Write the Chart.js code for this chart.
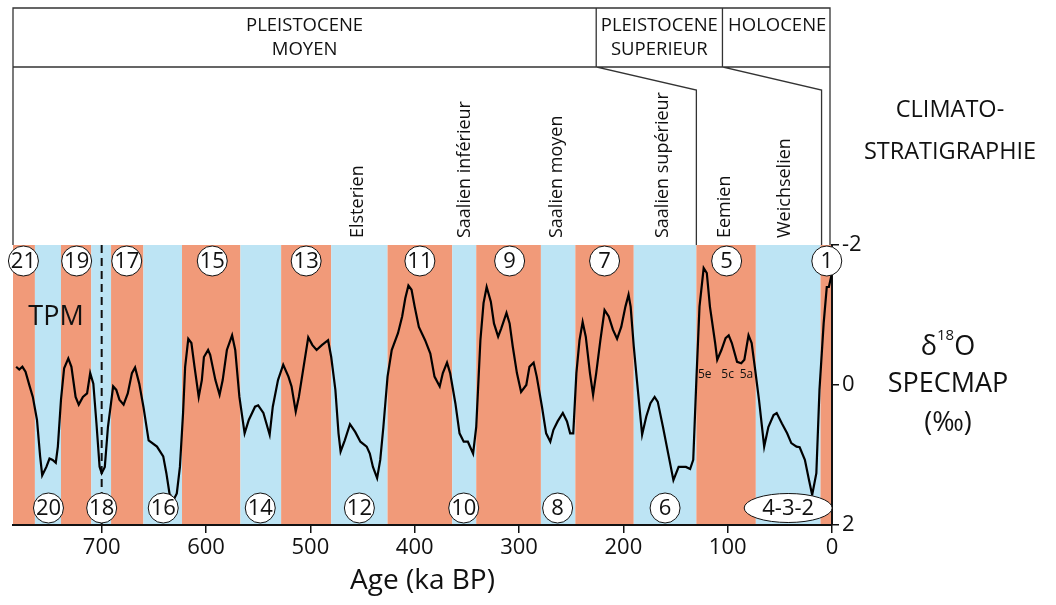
<!DOCTYPE html>
<html>
<head>
<meta charset="utf-8">
<script src="https://cdn.jsdelivr.net/npm/chart.js@4/dist/chart.umd.min.js"></script>
<style>
  html, body { margin: 0; padding: 0; background: #fff; }
  canvas { display: block; }
</style>
</head>
<body>
<canvas id="specmap" width="1056" height="605"></canvas>
<script>
// δ18O SPECMAP curve, age in ka BP and value in ‰
const ages = [
  782, 779, 776, 773, 769, 766, 762, 759, 757, 753,
  750, 747, 744, 742, 739, 736, 732, 729, 725, 722,
  718, 714, 711, 708, 705, 702, 700, 697, 694, 689,
  686, 683, 679, 675, 671, 668, 664, 660, 655, 647,
  641, 638, 635, 631, 628, 625, 622, 620, 617, 614,
  611, 607, 604, 602, 598, 596, 591, 587, 584, 580,
  575, 572, 568, 563, 559, 553, 550, 545, 539, 536,
  531, 526, 521, 518, 514, 511, 507, 502, 498, 494,
  489, 483, 480, 476, 473, 471, 467, 462, 457, 452,
  446, 443, 440, 436, 433, 430, 426, 422, 416, 412,
  409, 406, 403, 400, 396, 390, 385, 381, 376, 373,
  369, 366, 361, 357, 353, 349, 344, 341, 337, 334,
  331, 327, 324, 320, 317, 312, 309, 306, 302, 298,
  293, 290, 286, 283, 278, 274, 270, 267, 263, 258,
  254, 251, 248, 245, 242, 239, 236, 232, 229, 226,
  222, 218, 214, 210, 206, 202, 198, 195, 193, 190,
  187, 182, 178, 174, 170, 167, 162, 157, 152, 147,
  144, 140, 136, 133, 130, 127, 123, 120, 117, 112,
  110, 106, 102, 99, 96, 91, 87, 84, 80, 77,
  74, 70, 65, 61, 56, 53, 48, 43, 39, 34,
  31, 26, 22, 19, 15, 12, 8, 5, 3, 0
];
const d18O = [
  -0.26, -0.22, -0.26, -0.19, 0.02, 0.17, 0.50, 1.02, 1.29, 1.17,
  1.05, 1.07, 1.11, 0.88, 0.21, -0.24, -0.38, -0.26, 0.17, 0.28,
  0.17, 0.12, -0.17, -0.02, 0.55, 1.17, 1.26, 1.17, 0.60, 0.02,
  0.07, 0.21, 0.28, 0.12, -0.17, -0.25, -0.02, 0.31, 0.79, 0.88,
  1.02, 1.26, 1.55, 1.64, 1.55, 1.17, 0.40, -0.26, -0.66, -0.60,
  -0.26, 0.17, -0.07, -0.40, -0.50, -0.43, -0.07, 0.14, -0.07, -0.50,
  -0.71, -0.50, 0.17, 0.69, 0.50, 0.31, 0.29, 0.40, 0.71, 0.31,
  -0.07, -0.29, -0.12, 0.02, 0.38, 0.17, -0.21, -0.68, -0.57, -0.50,
  -0.57, -0.64, -0.40, 0.07, 0.69, 0.95, 0.79, 0.56, 0.67, 0.81,
  0.88, 0.98, 1.17, 1.33, 1.07, 0.60, -0.12, -0.50, -0.74, -0.98,
  -1.24, -1.42, -1.36, -1.12, -0.83, -0.64, -0.45, -0.12, 0.02, -0.17,
  -0.32, -0.17, 0.26, 0.69, 0.81, 0.81, 0.98, 0.60, -0.64, -1.17,
  -1.40, -1.19, -0.88, -0.69, -0.81, -1.03, -0.88, -0.55, -0.17, 0.10,
  0.00, -0.26, -0.32, -0.12, 0.31, 0.69, 0.81, 0.64, 0.52, 0.40,
  0.52, 0.69, 0.69, -0.17, -0.64, -0.90, -0.69, -0.17, 0.14, -0.17,
  -0.64, -1.07, -0.98, -0.79, -0.66, -0.83, -1.12, -1.29, -1.12, -0.55,
  -0.07, 0.71, 0.45, 0.26, 0.17, 0.24, 0.60, 0.98, 1.36, 1.17,
  1.17, 1.17, 1.20, 1.07, -0.07, -1.12, -1.67, -1.60, -1.12, -0.60,
  -0.36, -0.50, -0.67, -0.71, -0.60, -0.33, -0.31, -0.36, -0.71, -0.60,
  -0.26, 0.21, 0.88, 0.60, 0.43, 0.40, 0.55, 0.69, 0.83, 0.88,
  0.89, 1.07, 1.36, 1.57, 1.26, 0.07, -0.88, -1.40, -1.40, -1.60
];

// isotope stage bands, edges in ka (oldest first); stage 21 is warm
const stageEdges = [785, 764, 739, 710, 691, 660, 623, 567, 528, 480, 426, 364, 341, 279, 246, 190, 130, 73, 11, 0];

// stage numbers: odd (warm) on top, even (cold) at bottom
const oddStages = ['21', '19', '17', '15', '13', '11', '9', '7', '5', '1'];
const oddAges = [775, 724, 676, 594, 504, 395, 309, 218, 101, 5];
const evenStages = ['20', '18', '16', '14', '12', '10', '8', '6', '4-3-2'];
const evenAges = [751, 700, 641, 548, 453, 353, 263, 160, 42];

const subStages = ['5e', '5c', '5a'];
const subStageAges = [122, 100, 82];

// regional stages (climatostratigraphy)
const regionalNames = ['Elsterien', 'Saalien inférieur', 'Saalien moyen', 'Saalien supérieur', 'Eemien', 'Weichselien'];
const regionalAges = [454, 352, 264, 162, 103, 45];

// epochs: boxes in the top row, and where they meet the curve panel
const epochLabels = [['PLEISTOCENE', 'MOYEN'], ['PLEISTOCENE', 'SUPERIEUR'], ['HOLOCENE']];
const epochTopEdges = [785, 226, 105, 0];
const epochBaseEdges = [785, 130, 10, 0];

const tpmAge = 700;

const WARM = '#f19a79';
const COLD = '#bde4f4';
const FONT = "'Open Sans', sans-serif";

const frame = {
  id: 'frame',
  beforeDraw(chart) {
    const { ctx, chartArea: a, scales: { x } } = chart;
    ctx.save();
    for (let i = 0; i < stageEdges.length - 1; i++) {
      const x0 = x.getPixelForValue(stageEdges[i]);
      const x1 = x.getPixelForValue(stageEdges[i + 1]);
      ctx.fillStyle = i % 2 === 0 ? WARM : COLD;
      ctx.fillRect(x0, a.top, x1 - x0, a.bottom - a.top);
    }
    ctx.restore();
  },
  beforeDatasetsDraw(chart) {
    const { ctx, chartArea: a, scales: { x } } = chart;
    // TPM dashed line
    const px = x.getPixelForValue(tpmAge);
    ctx.save();
    ctx.strokeStyle = '#111';
    ctx.lineWidth = 2;
    ctx.setLineDash([8, 5]);
    ctx.beginPath();
    ctx.moveTo(px, a.top);
    ctx.lineTo(px, a.bottom);
    ctx.stroke();
    ctx.restore();
  },
  afterDatasetsDraw(chart) {
    const { ctx, chartArea: a, scales: { x } } = chart;
    ctx.save();
    ctx.fillStyle = '#111';
    ctx.textAlign = 'center';
    ctx.textBaseline = 'middle';

    const bubble = (label, age, cy) => {
      const cx = x.getPixelForValue(age);
      ctx.beginPath();
      if (label.length > 2) ctx.ellipse(cx, cy, 44, 14.5, 0, 0, Math.PI * 2);
      else ctx.arc(cx, cy, 15, 0, Math.PI * 2);
      ctx.fillStyle = '#fff';
      ctx.fill();
      ctx.lineWidth = 1;
      ctx.strokeStyle = '#111';
      ctx.stroke();
      ctx.fillStyle = '#111';
      ctx.font = '22px ' + FONT;
      ctx.fillText(label, cx, cy + 1);
    };
    oddStages.forEach((s, i) => bubble(s, oddAges[i], a.top + 16));
    evenStages.forEach((s, i) => bubble(s, evenAges[i], a.bottom - 17));

    ctx.font = '12px ' + FONT;
    subStages.forEach((s, i) => ctx.fillText(s, x.getPixelForValue(subStageAges[i]), a.top + 130));

    ctx.font = '27px ' + FONT;
    ctx.fillText('TPM', a.left + 43, a.top + 72);
    ctx.restore();
  },
  afterDraw(chart) {
    const { ctx, chartArea: a, scales: { x } } = chart;
    const top = 8, mid = 67, kink = 90;
    const right = a.right - 2;
    ctx.save();
    ctx.strokeStyle = '#333';
    ctx.lineWidth = 1.3;
    ctx.beginPath();
    ctx.moveTo(a.left, a.top);
    ctx.lineTo(a.left, top);
    ctx.lineTo(right, top);
    ctx.lineTo(right, a.top);
    ctx.moveTo(a.left, mid);
    ctx.lineTo(right, mid);
    for (let i = 1; i < epochTopEdges.length - 1; i++) {
      const xt = x.getPixelForValue(epochTopEdges[i]);
      const xb = x.getPixelForValue(epochBaseEdges[i]);
      ctx.moveTo(xt, top);
      ctx.lineTo(xt, mid);
      ctx.lineTo(xb, kink);
      ctx.lineTo(xb, a.top);
    }
    ctx.stroke();

    ctx.fillStyle = '#111';
    ctx.textAlign = 'center';
    ctx.textBaseline = 'middle';
    ctx.font = '18.5px ' + FONT;
    epochLabels.forEach((lines, i) => {
      const cx = (x.getPixelForValue(epochTopEdges[i]) + x.getPixelForValue(epochTopEdges[i + 1])) / 2;
      lines.forEach((t, j) => ctx.fillText(t, cx, 26 + j * 24));
    });

    // regional stage names, rotated
    ctx.font = '18px ' + FONT;
    ctx.textAlign = 'left';
    regionalNames.forEach((t, i) => {
      ctx.save();
      ctx.translate(x.getPixelForValue(regionalAges[i]), a.top - 7);
      ctx.rotate(-Math.PI / 2);
      ctx.fillText(t, 0, 0);
      ctx.restore();
    });

    // right-hand captions
    ctx.textAlign = 'center';
    ctx.font = '23.5px ' + FONT;
    ctx.fillText('CLIMATO-', 950, 110);
    ctx.fillText('STRATIGRAPHIE', 950, 152);

    ctx.font = '27px ' + FONT;
    ctx.textAlign = 'left';
    const dW = ctx.measureText('δ').width;
    ctx.font = '15px ' + FONT;
    const supW = ctx.measureText('18').width;
    ctx.font = '27px ' + FONT;
    const oW = ctx.measureText('O').width;
    const sx = 948 - (dW + supW + oW) / 2;
    ctx.fillText('δ', sx, 347);
    ctx.font = '15px ' + FONT;
    ctx.fillText('18', sx + dW, 336);
    ctx.font = '27px ' + FONT;
    ctx.fillText('O', sx + dW + supW, 347);
    ctx.textAlign = 'center';
    ctx.fillText('SPECMAP', 948, 384);
    ctx.fillText('(‰)', 948, 423);

    ctx.font = '28px ' + FONT;
    ctx.fillText('Age (ka BP)', (a.left + a.right) / 2, 581);
    ctx.restore();
  }
};

new Chart(document.getElementById('specmap'), {
  type: 'line',
  data: {
    datasets: [{
      data: ages.map((t, i) => ({ x: t, y: d18O[i] })),
      borderColor: '#000',
      borderWidth: 2.2,
      pointRadius: 0,
      tension: 0,
      fill: false
    }]
  },
  options: {
    responsive: false,
    animation: false,
    layout: { padding: { left: 13, top: 245, right: 184, bottom: 0 } },
    plugins: { legend: { display: false }, tooltip: { enabled: false } },
    scales: {
      x: {
        type: 'linear',
        reverse: true,
        min: 0,
        max: 785,
        afterFit: (s) => { s.height = 80; },
        ticks: { stepSize: 100, includeBounds: false, color: '#111', font: { family: FONT, size: 22 }, padding: 2, maxRotation: 0 },
        grid: { drawOnChartArea: false, tickLength: 8, color: '#111', lineWidth: 1.5 },
        border: { color: '#111', width: 2 }
      },
      y: {
        position: 'right',
        reverse: true,
        min: -2,
        max: 2,
        afterFit: (s) => { s.width = 40; },
        ticks: { stepSize: 2, color: '#111', font: { family: FONT, size: 22 }, padding: 3 },
        grid: { drawOnChartArea: false, tickLength: 7, color: '#111', lineWidth: 1.5 },
        border: { color: '#111', width: 2 }
      }
    }
  },
  plugins: [frame]
});
</script>
</body>
</html>
